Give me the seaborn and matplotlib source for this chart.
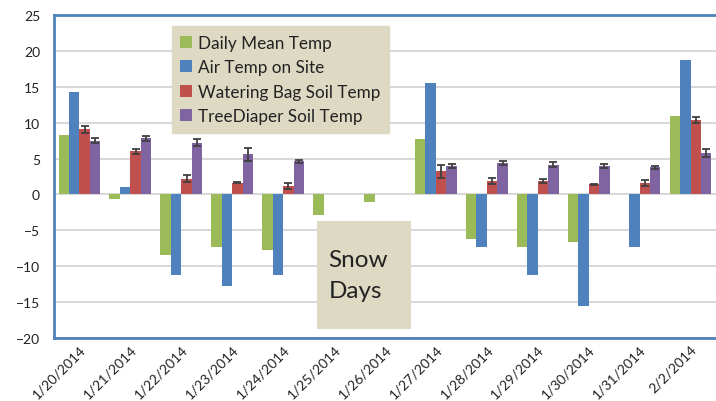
import numpy as np
import pandas as pd
import matplotlib
matplotlib.use("Agg")
import matplotlib.pyplot as plt
import seaborn as sns
from matplotlib.patches import Rectangle

# dates on the x axis
dates = ["1/20/2014", "1/21/2014", "1/22/2014", "1/23/2014", "1/24/2014",
         "1/25/2014", "1/26/2014", "1/27/2014", "1/28/2014", "1/29/2014",
         "1/30/2014", "1/31/2014", "2/2/2014"]

series_names = ["Daily Mean Temp", "Air Temp on Site",
                "Watering Bag Soil Temp", "TreeDiaper Soil Temp"]

# values (nan = no bar)
daily_mean = [8.3, -0.6, -8.4, -7.3, -7.8, -2.8, -1.1, 7.7, -6.2, -7.3, -6.7, np.nan, 11.0]
air_site = [14.3, 1.1, -11.2, -12.8, -11.2, np.nan, np.nan, 15.5, -7.3, -11.2, -15.6, -7.3, 18.7]
bag_soil = [9.1, 6.0, 2.2, 1.65, 1.2, np.nan, np.nan, 3.2, 1.9, 1.9, 1.4, 1.55, 10.4]
diaper_soil = [7.5, 7.8, 7.2, 5.6, 4.6, np.nan, np.nan, 4.0, 4.4, 4.15, 4.0, 3.8, 5.8]

# error bars on the soil temps
bag_err = [0.5, 0.3, 0.5, 0.1, 0.4, np.nan, np.nan, 0.9, 0.4, 0.25, 0.1, 0.4, 0.4]
diaper_err = [0.3, 0.3, 0.5, 0.9, 0.2, np.nan, np.nan, 0.3, 0.3, 0.3, 0.25, 0.2, 0.6]

colors = ["#9bbb59", "#4f81bd", "#c0504d", "#8064a2"]

# long form table for seaborn
rows = []
for name, vals in zip(series_names, [daily_mean, air_site, bag_soil, diaper_soil]):
    for d, v in zip(dates, vals):
        rows.append({"date": d, "series": name, "temp": 0.0 if np.isnan(v) else v})
df = pd.DataFrame(rows)

sns.set_style("white")
plt.rcParams["font.family"] = ["Lato", "DejaVu Sans"]

fig = plt.figure(figsize=(7.16, 4.02), dpi=100)
ax = fig.add_axes([0.0754, 0.157, 0.9246, 0.803])

sns.barplot(data=df, x="date", y="temp", hue="series", order=dates,
            hue_order=series_names, palette=colors, width=0.82,
            errorbar=None, saturation=1, linewidth=0, ax=ax)

# error bars on top of the soil temp bars
for cont, errs in zip(ax.containers[2:], [bag_err, diaper_err]):
    for bar, e in zip(cont, errs):
        if np.isnan(e):
            continue
        ax.errorbar(bar.get_x() + bar.get_width() / 2, bar.get_height(), yerr=e,
                    fmt="none", ecolor="#404040", elinewidth=1.3, capsize=3,
                    capthick=1.3, zorder=5)

ax.set_ylim(-20, 25)
ax.set_yticks(range(-20, 26, 5))
ax.set_xlim(-0.5, len(dates) - 0.5)
ax.yaxis.grid(True, color="#d9d9d9", linewidth=1.5)
ax.set_axisbelow(True)
ax.set_xlabel("")
ax.set_ylabel("")
ax.tick_params(axis="both", length=0, labelsize=10, colors="#222222")
ax.tick_params(axis="y", pad=10)
plt.setp(ax.get_xticklabels(), rotation=45, ha="right", rotation_mode="anchor")

for s in ["top", "left", "bottom"]:
    ax.spines[s].set_color("#4f81bd")
    ax.spines[s].set_linewidth(2)
ax.spines["right"].set_visible(False)

leg = ax.legend(loc="upper left", bbox_to_anchor=(0.178, 0.966), fontsize=12.3,
                frameon=True, fancybox=False, facecolor="#ddd9c3", edgecolor="#ddd9c3",
                framealpha=1, handlelength=0.7, handleheight=0.7, handletextpad=0.35,
                labelspacing=0.5, borderpad=0.5, borderaxespad=0)
for t in leg.get_texts():
    t.set_color("#222222")

# snow days box
ax.add_patch(Rectangle((0.398, 0.028), 0.141, 0.334, transform=ax.transAxes,
                       facecolor="#ddd9c3", edgecolor="none", zorder=6))
ax.text(0.415, 0.195, "Snow\nDays", transform=ax.transAxes, fontsize=17.5,
        ha="left", va="center", color="#222222", linespacing=1.55, zorder=7)

fig.savefig("out.png", dpi=100)
